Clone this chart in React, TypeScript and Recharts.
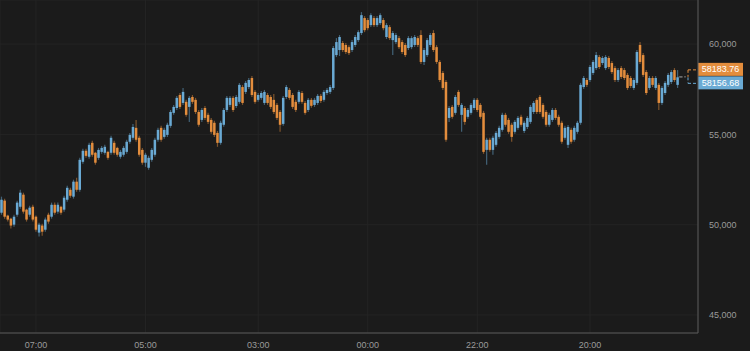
import React from "react";
import { ComposedChart, Bar, XAxis, YAxis, CartesianGrid, ReferenceLine } from "recharts";

const opens = [
  50660, 51330, 50500, 50330, 50000, 50550, 50990, 51660, 50830, 50550,
  50990, 50440, 49560, 49950, 49720, 50550, 50440, 51100, 50720, 50990,
  50830, 51380, 51930, 51550, 52380, 51930, 53480, 54090, 53760, 54530,
  53980, 53700, 54030, 53980, 54030, 53980, 54530, 54250, 53760, 53870,
  54030, 54590, 54810, 55360, 54810, 54140, 53430, 53150, 53590, 53870,
  54700, 55360, 54860, 54970, 55470, 56190, 56460, 57180, 56740, 56800,
  56520, 57070, 56910, 56240, 55800, 56460, 56080, 55800, 55640, 55080,
  54530, 55530, 56350, 56630, 57020, 56570, 56800, 57620, 57350, 57620,
  58120, 57350, 56910, 57020, 56740, 57180, 57070, 56910, 56630, 56240,
  55580, 57070, 57460, 57180, 56800, 56800, 57290, 56740, 56350, 56910,
  56630, 56740, 57130, 56910, 57290, 57350, 57570, 59390, 59670, 60060,
  59950, 59830, 59670, 59950, 60220, 60610, 61440, 61330, 61050, 61440,
  61050, 61160, 61330, 60390, 60940, 60220, 60110, 60330, 60110, 59950,
  59780, 59830, 59950, 60330, 60500, 59010, 59390, 59950, 60610, 59830,
  59010, 58400, 57900, 55910, 56520, 56190, 57350, 56080, 56460, 55970,
  56190, 56460, 56910, 56630, 56190, 54140, 54700, 54140, 54420, 54860,
  55250, 56080, 55800, 55530, 55140, 55360, 55970, 55190, 55410, 55690,
  56240, 56910, 57070, 56630, 56240, 55530, 55800, 56350, 55970, 55640,
  54810, 54420, 55250, 54700, 55140, 55640, 57620, 58010, 58010, 58400,
  58670, 59280, 58950, 58670, 59230, 58950, 58670, 58010, 58670, 58560,
  58290, 58120, 57570, 57850, 59950, 59390, 58450, 57570, 58120, 57570,
  57740, 56740, 57290, 57740, 57900, 58560, 57740, 58180,
];

const highs = [
  51550, 51440, 50550, 50380, 50550, 51330, 51930, 51770, 50880, 51050,
  51100, 50500, 50110, 50050, 50390, 50660, 51220, 51220, 51220, 51050,
  51600, 52160, 52040, 52490, 52600, 53700, 54200, 54200, 54530, 54640,
  54030, 54250, 54360, 54420, 54090, 54920, 54640, 54310, 54140, 54360,
  54700, 55080, 55580, 55800, 54920, 54250, 53980, 53810, 54250, 54810,
  55360, 55470, 55360, 55640, 56350, 56630, 57130, 57290, 57570, 56910,
  57130, 57180, 57020, 56350, 56460, 56570, 56190, 55910, 55750, 55190,
  55750, 56460, 57130, 57130, 57130, 57180, 57850, 57730, 57960, 58120,
  58230, 57460, 57290, 57400, 57460, 57290, 57180, 57240, 56740, 56350,
  57130, 57730, 57570, 57290, 56910, 57460, 57400, 56850, 57020, 57020,
  57020, 57240, 57240, 57460, 57570, 57730, 59890, 60330, 60500, 60170,
  60060, 59940, 60220, 60500, 60770, 61770, 61550, 61440, 61710, 61550,
  61550, 61710, 61440, 61160, 61050, 60720, 60610, 60440, 60220, 60060,
  60440, 60440, 60500, 60440, 60770, 59780, 60330, 60610, 60770, 59940,
  59120, 58510, 58010, 56570, 56630, 57180, 57460, 56740, 56570, 56460,
  56740, 57020, 57020, 56740, 56300, 54810, 54810, 54920, 55190, 55470,
  56190, 56190, 55910, 55640, 55800, 56020, 56080, 55750, 56020, 56630,
  56850, 57020, 57180, 56740, 56350, 56190, 56460, 56460, 56080, 55750,
  55470, 55520, 55360, 55470, 55750, 57850, 58230, 58120, 58840, 59120,
  59560, 59390, 59340, 59390, 59340, 59060, 58780, 58670, 58780, 58670,
  58400, 58230, 58120, 59670, 60110, 59500, 58560, 58230, 58230, 58230,
  57850, 57680, 57960, 58400, 58560, 58670, 58560, 58200,
];

const lows = [
  50550, 50330, 50170, 49780, 49890, 50440, 50880, 50610, 50170, 50440,
  50170, 49610, 49340, 49390, 49610, 50050, 50330, 50550, 50610, 50550,
  50720, 51270, 51490, 51440, 51820, 51820, 53370, 53700, 53650, 53760,
  53320, 53590, 53920, 53870, 53590, 53870, 53870, 53760, 53650, 53760,
  53920, 54480, 54700, 54590, 53760, 53320, 53200, 53040, 53480, 53760,
  54590, 54590, 54750, 54860, 55360, 56080, 56350, 56410, 56630, 55970,
  55690, 56690, 56130, 55420, 55690, 55800, 55580, 55030, 54860, 54310,
  54420, 55420, 56240, 56520, 56240, 56460, 56690, 56630, 57240, 57510,
  57070, 56690, 56800, 56910, 56630, 56630, 56410, 56130, 55800, 55140,
  55470, 56960, 56910, 56410, 56240, 56690, 56690, 56080, 56240, 56470,
  56520, 56630, 56740, 56800, 57180, 57240, 57460, 59280, 59340, 59560,
  59450, 59390, 59560, 59840, 60110, 60500, 60660, 60770, 60940, 60940,
  60940, 61050, 60770, 60280, 60220, 59390, 60000, 59720, 59450, 59280,
  59670, 59720, 59840, 59840, 58900, 58840, 59280, 59840, 59560, 58900,
  57900, 57460, 54590, 55690, 55860, 56080, 56520, 55140, 55530, 55860,
  56080, 56350, 56240, 55860, 53920, 53320, 54030, 53870, 54310, 54750,
  55140, 55420, 55030, 54590, 55030, 55250, 55420, 55080, 55300, 55580,
  56130, 56130, 56130, 55860, 55420, 55420, 55690, 55800, 55420, 54480,
  54700, 54250, 54480, 54590, 55030, 55530, 57510, 57620, 57900, 58290,
  58560, 58620, 58840, 58560, 58620, 58340, 57900, 57900, 58070, 58010,
  57460, 57570, 57460, 57740, 58900, 58180, 57180, 57460, 57620, 57460,
  56350, 56630, 57180, 57620, 57790, 57900, 57570, 58160,
];

const closes = [
  51380, 50440, 50280, 49950, 50440, 51220, 51770, 50720, 50280, 50940,
  50280, 49720, 50000, 49610, 50280, 50170, 51100, 50660, 51100, 50660,
  51490, 52040, 51600, 52380, 51930, 53590, 54090, 53810, 54420, 53870,
  53430, 54140, 54250, 54310, 53700, 54810, 53980, 53870, 54030, 54250,
  54590, 54970, 55410, 54700, 53870, 53430, 53870, 53700, 54140, 54700,
  55250, 54700, 55250, 55530, 56240, 56520, 57020, 56520, 57350, 56080,
  57020, 56800, 56240, 55530, 56350, 55910, 55690, 55140, 54970, 54530,
  55640, 56350, 57020, 57020, 56350, 57070, 57740, 56740, 57850, 58010,
  57180, 56800, 57180, 57290, 57350, 56740, 56520, 56240, 55910, 55530,
  57020, 57620, 57020, 56520, 56350, 57350, 56800, 56190, 56910, 56580,
  56910, 57130, 56850, 57350, 57460, 57620, 59780, 60110, 60390, 59670,
  59560, 59500, 60110, 60390, 60660, 61600, 60770, 60880, 61600, 61050,
  61440, 61600, 60880, 61050, 60330, 60610, 60500, 59830, 59560, 59390,
  60330, 60330, 60390, 59950, 59010, 59670, 60220, 60500, 59670, 59010,
  58010, 57570, 54700, 56460, 55970, 57070, 56630, 56630, 55690, 56350,
  56630, 56910, 56350, 55970, 54030, 54700, 54140, 54810, 55080, 55360,
  56080, 55530, 55140, 54860, 55690, 55910, 55530, 55640, 55910, 56520,
  56740, 56240, 56240, 55970, 55530, 56080, 56350, 55910, 55530, 54590,
  55360, 55410, 54590, 55360, 55640, 57740, 58120, 57740, 58730, 59010,
  59390, 58730, 59230, 59280, 58730, 58450, 58010, 58560, 58180, 58120,
  57570, 57680, 58010, 59560, 59010, 58290, 57290, 58120, 57740, 58120,
  56740, 57570, 57850, 58290, 58450, 58010, 58160, 58180,
];

const timeLabels = ["07:00", "05:00", "03:00", "00:00", "22:00", "20:00"];
const timeLabelSlots = [11, 46, 82, 117, 152, 188];
const emptySlots = 5;

const priceTicks = [45000, 50000, 55000, 60000];
const priceDomain = [44000, 62440];

const askPrice = 58183.76;
const bidPrice = 58156.68;

const UP = "#6aaad4";
const DOWN = "#e38d3d";
const BG = "#1b1b1b";
const FONT = "'Liberation Sans', Arial, Helvetica, sans-serif";

const data = [
  ...opens.map((o, i) => ({
    t: i,
    o,
    h: highs[i],
    l: lows[i],
    c: closes[i],
    range: [lows[i], highs[i]],
  })),
  ...Array.from({ length: emptySlots }, (_, k) => ({ t: opens.length + k, range: null as any })),
];

const Candle = (props: any) => {
  const { x, y, width, height, payload } = props;
  if (!payload || payload.o == null || x == null || y == null) return null;
  const { o, h, l, c } = payload;
  const top = Math.min(y, y + height);
  const bot = Math.max(y, y + height);
  const span = h - l;
  const toPix = (v: number) => (span === 0 ? top : top + ((h - v) / span) * (bot - top));
  const cx = x + width / 2;
  if (o === c) {
    const py = toPix(o);
    return (
      <g>
        <line x1={cx - 2} x2={cx + 2} y1={py} y2={py} stroke="#8a8a8a" strokeWidth={1} />
      </g>
    );
  }
  const color = c > o ? UP : DOWN;
  const yo = toPix(o);
  const yc = toPix(c);
  const bTop = Math.min(yo, yc);
  const bH = Math.max(1, Math.abs(yo - yc));
  const bw = 2.5;
  return (
    <g>
      <line x1={cx} x2={cx} y1={top} y2={bot} stroke={color} strokeOpacity={0.5} strokeWidth={1.2} />
      <rect x={cx - bw / 2} y={bTop} width={bw} height={bH} fill={color} />
    </g>
  );
};

const AskTag = (props: any) => {
  const vb = props.viewBox || {};
  const right = (vb.x || 0) + (vb.width || 0);
  const py = vb.y || 0;
  return (
    <g>
      <rect x={right} y={py - 14} width={45} height={13} fill={DOWN} />
      <text x={right + 22.5} y={py - 7.5} fill="#ffffff" fontSize={9} fontFamily={FONT} textAnchor="middle" dominantBaseline="central">
        {askPrice.toFixed(2)}
      </text>
      <line x1={right - 10} x2={right - 1} y1={py - 7} y2={py - 7} stroke={DOWN} strokeDasharray="3 2" />
      <line x1={right - 10} x2={right - 10} y1={py - 7} y2={py} stroke={DOWN} strokeDasharray="3 2" />
      <line x1={right - 18} x2={right - 12} y1={py} y2={py} stroke="#777" strokeDasharray="2 2" />
    </g>
  );
};

const BidTag = (props: any) => {
  const vb = props.viewBox || {};
  const right = (vb.x || 0) + (vb.width || 0);
  const py = vb.y || 0;
  return (
    <g>
      <rect x={right} y={py - 1} width={45} height={13} fill={UP} />
      <text x={right + 22.5} y={py + 5.5} fill="#ffffff" fontSize={9} fontFamily={FONT} textAnchor="middle" dominantBaseline="central">
        {bidPrice.toFixed(2)}
      </text>
      <line x1={right - 10} x2={right - 1} y1={py + 6} y2={py + 6} stroke={UP} strokeDasharray="3 2" />
      <line x1={right - 10} x2={right - 10} y1={py} y2={py + 6} stroke={UP} strokeDasharray="3 2" />
    </g>
  );
};

export default function App() {
  return (
    <div style={{ position: "absolute", left: 0, top: 0, width: 750, height: 351, background: BG }}>
      <ComposedChart
        width={750}
        height={351}
        data={data}
        margin={{ top: 0, right: 0, bottom: 0, left: 0 }}
        barCategoryGap={0}
        barGap={0}
      >
        <CartesianGrid stroke="#242424" strokeWidth={1} />
        <XAxis
          dataKey="t"
          type="category"
          ticks={timeLabelSlots}
          tickFormatter={(v: any) => {
            const k = timeLabelSlots.indexOf(Number(v));
            return k >= 0 ? timeLabels[k] : "";
          }}
          interval={0}
          height={18}
          axisLine={{ stroke: "#5a5a5a" }}
          tickLine={false}
          tickMargin={3}
          tick={{ fill: "#9a9a9a", fontSize: 9, fontFamily: FONT }}
        />
        <YAxis
          orientation="right"
          domain={priceDomain}
          allowDataOverflow
          ticks={priceTicks}
          tickFormatter={(v: number) => v.toLocaleString("en-US")}
          width={52}
          axisLine={{ stroke: "#5a5a5a" }}
          tickLine={false}
          tickMargin={5}
          tick={{ fill: "#9a9a9a", fontSize: 9, fontFamily: FONT }}
        />
        <Bar dataKey="range" isAnimationActive={false} shape={<Candle />} />
        <ReferenceLine y={askPrice} stroke="none" ifOverflow="visible" label={<AskTag />} />
        <ReferenceLine y={bidPrice} stroke="none" ifOverflow="visible" label={<BidTag />} />
      </ComposedChart>
    </div>
  );
}
